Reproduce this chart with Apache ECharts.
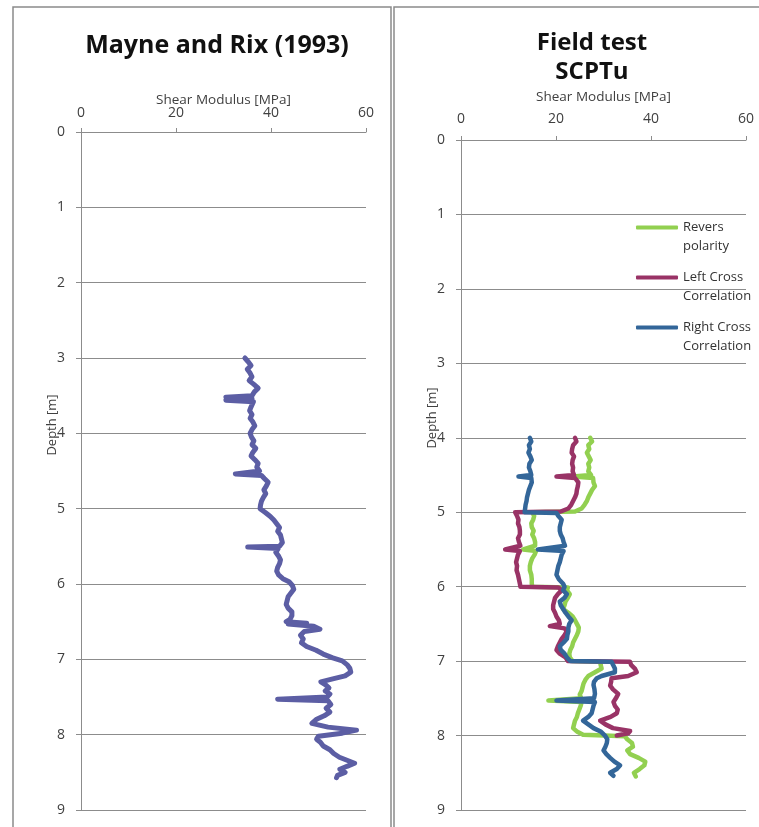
<!DOCTYPE html>
<html>
<head>
<meta charset="utf-8">
<script src="https://cdn.jsdelivr.net/npm/echarts@6/dist/echarts.min.js"></script>
<style>html,body{margin:0;padding:0;background:#fff}#c{width:759px;height:827px}</style>
</head>
<body>
<div id="c"></div>
<script>
// ---- data ----
var xTicks = [0, 20, 40, 60];
var depthTicks = [0, 1, 2, 3, 4, 5, 6, 7, 8, 9];
var titleLeft = 'Mayne and Rix (1993)';
var titleRight = 'Field test\nSCPTu';
var xAxisName = 'Shear Modulus [MPa]';
var yAxisName = 'Depth [m]';
var seriesNames = ['Revers polarity', 'Left Cross Correlation', 'Right Cross Correlation'];
var legendLabels = ['Revers\npolarity', 'Left Cross\nCorrelation', 'Right Cross\nCorrelation'];

// Mayne and Rix (1993)
var mrDepth = [3.00,3.05,3.10,3.15,3.20,3.25,3.30,3.35,3.40,3.45,3.50,3.52,3.54,3.56,3.58,3.65,3.70,3.75,3.80,3.85,3.90,3.95,4.00,4.05,4.10,4.15,4.20,4.25,4.30,4.35,4.40,4.45,4.50,4.54,4.56,4.60,4.65,4.70,4.75,4.80,4.85,4.90,4.95,5.00,5.05,5.10,5.15,5.20,5.25,5.30,5.35,5.40,5.45,5.50,5.51,5.53,5.58,5.63,5.68,5.73,5.78,5.83,5.88,5.93,5.97,6.02,6.07,6.12,6.17,6.22,6.27,6.32,6.37,6.42,6.47,6.50,6.52,6.53,6.56,6.60,6.63,6.68,6.73,6.78,6.83,6.88,6.93,6.98,7.02,7.07,7.12,7.17,7.22,7.26,7.30,7.34,7.38,7.42,7.46,7.50,7.53,7.55,7.60,7.65,7.70,7.75,7.80,7.85,7.90,7.94,7.98,8.02,8.06,8.10,8.15,8.20,8.25,8.30,8.35,8.38,8.42,8.46,8.50,8.54,8.57];
var mrG = [34.5,35.2,35.8,35.0,35.6,36.0,35.4,36.4,37.3,36.5,36.0,30.5,36.0,30.5,36.3,35.8,35.5,36.0,35.6,36.2,36.6,36.0,35.6,35.9,36.4,36.0,36.8,36.2,35.8,36.6,37.3,37.0,37.6,32.5,38.0,38.6,39.4,39.0,38.5,38.9,38.4,38.0,37.8,37.7,38.8,39.8,40.6,41.2,41.8,41.4,42.0,42.2,42.4,41.8,35.1,41.5,41.0,41.6,42.0,41.8,41.4,41.2,41.6,42.5,43.8,44.5,44.8,44.2,43.6,43.4,43.2,43.6,44.4,44.4,44.0,43.2,47.5,43.6,49.0,50.3,47.0,46.2,46.8,46.4,47.5,49.5,51.0,53.0,55.0,56.0,56.6,56.8,55.6,53.0,50.5,51.5,52.2,51.4,52.4,51.8,41.4,52.0,52.6,51.6,52.4,51.2,49.5,48.6,52.0,58.0,55.0,50.0,49.6,50.4,51.0,52.4,53.2,54.4,56.4,57.6,56.0,54.5,55.6,54.0,53.8];

// Field test SCPTu - Revers polarity
var rpDepth = [4.00,4.05,4.10,4.15,4.20,4.25,4.30,4.35,4.40,4.45,4.50,4.52,4.54,4.60,4.65,4.70,4.75,4.80,4.85,4.90,4.95,4.99,5.00,5.05,5.10,5.15,5.20,5.25,5.30,5.35,5.40,5.45,5.50,5.52,5.57,5.62,5.67,5.72,5.78,5.84,5.90,5.96,6.00,6.01,6.05,6.10,6.15,6.20,6.25,6.30,6.35,6.40,6.45,6.50,6.55,6.60,6.65,6.70,6.75,6.80,6.85,6.90,6.95,7.00,7.01,7.05,7.10,7.15,7.20,7.25,7.30,7.35,7.40,7.45,7.50,7.53,7.55,7.60,7.65,7.70,7.75,7.80,7.85,7.90,7.95,7.99,8.01,8.05,8.10,8.15,8.20,8.25,8.30,8.35,8.40,8.45,8.50,8.55];
var rpG = [27.2,27.6,26.8,27.0,26.5,26.9,27.3,26.8,27.0,26.8,27.4,23.6,27.8,27.9,28.2,27.6,27.2,26.8,26.5,26.0,25.4,24.0,15.0,15.4,15.2,14.8,14.9,15.3,15.0,15.4,15.6,15.6,13.1,15.8,15.5,15.0,14.7,14.5,14.5,14.8,14.9,14.9,15.0,22.5,22.3,22.9,22.5,22.0,21.8,21.5,22.6,23.5,24.0,24.4,24.8,24.7,24.4,24.0,23.6,23.4,23.0,22.8,22.9,23.5,29.3,29.4,29.6,28.2,26.8,26.2,25.8,25.6,25.4,25.0,25.3,18.4,25.4,25.2,24.9,24.6,24.4,24.0,23.8,23.6,24.5,25.7,34.5,35.0,36.0,36.2,35.0,35.6,37.4,38.8,38.6,37.6,36.4,36.8];

// Left Cross Correlation
var lcDepth = [4.00,4.05,4.10,4.15,4.20,4.25,4.30,4.35,4.40,4.45,4.50,4.52,4.54,4.60,4.65,4.70,4.75,4.80,4.85,4.90,4.95,4.99,5.00,5.05,5.10,5.15,5.20,5.25,5.30,5.35,5.40,5.45,5.50,5.52,5.57,5.62,5.67,5.72,5.78,5.84,5.90,5.96,6.00,6.01,6.05,6.10,6.15,6.20,6.25,6.30,6.35,6.40,6.45,6.50,6.53,6.56,6.60,6.65,6.70,6.75,6.80,6.85,6.90,6.95,7.00,7.01,7.05,7.10,7.15,7.20,7.23,7.28,7.33,7.38,7.44,7.50,7.55,7.60,7.65,7.70,7.75,7.80,7.85,7.90,7.94,7.97,8.00];
var lcG = [24.0,24.3,23.6,23.4,23.3,23.8,23.5,23.4,23.6,23.5,23.8,20.1,24.0,24.7,24.6,24.4,24.3,24.0,23.6,23.2,22.6,21.0,11.4,11.8,12.1,12.0,12.3,12.4,12.4,12.0,12.2,12.5,9.3,12.4,12.0,11.8,11.6,11.8,11.7,12.0,12.2,12.4,12.5,20.5,21.2,20.4,19.8,19.6,19.4,19.4,19.8,20.1,20.6,20.8,18.7,21.8,22.3,21.8,21.2,20.8,20.4,20.1,20.8,22.0,22.5,35.6,35.8,36.6,37.0,35.2,31.7,31.6,31.4,32.0,33.1,32.6,32.1,32.4,33.0,32.8,31.5,29.3,30.4,32.0,35.6,35.2,32.8];

// Right Cross Correlation
var rcDepth = [4.00,4.05,4.10,4.15,4.20,4.25,4.30,4.35,4.40,4.45,4.50,4.52,4.54,4.60,4.65,4.70,4.75,4.80,4.85,4.90,4.95,5.00,5.01,5.05,5.10,5.15,5.20,5.25,5.30,5.35,5.40,5.45,5.50,5.52,5.57,5.62,5.67,5.72,5.78,5.84,5.90,5.96,6.00,6.05,6.10,6.15,6.20,6.25,6.30,6.35,6.40,6.45,6.50,6.55,6.60,6.65,6.70,6.75,6.80,6.85,6.90,6.95,7.00,7.01,7.05,7.10,7.15,7.20,7.23,7.28,7.32,7.38,7.44,7.50,7.53,7.55,7.60,7.65,7.70,7.75,7.80,7.85,7.90,7.95,8.00,8.05,8.10,8.15,8.20,8.25,8.30,8.35,8.40,8.45,8.50,8.54];
var rcG = [14.5,14.8,14.3,14.5,14.2,14.6,14.9,14.4,14.3,14.6,14.8,12.1,14.8,14.9,14.6,14.3,14.1,13.9,13.8,13.6,13.5,13.4,20.1,20.5,21.2,21.0,20.8,20.8,21.0,21.4,21.6,21.9,16.2,21.6,21.2,21.0,20.8,20.5,20.3,20.1,20.6,21.5,21.8,21.5,22.3,21.8,20.8,21.0,21.5,22.0,22.6,23.3,22.8,22.6,22.6,22.4,22.3,21.6,20.8,21.0,21.8,22.3,23.0,31.7,32.0,32.4,32.4,29.6,28.6,28.0,27.9,28.1,28.2,28.0,20.1,28.2,27.9,27.7,27.5,26.8,25.7,26.8,27.9,29.5,30.3,30.8,30.7,30.4,30.0,30.6,31.4,32.3,33.5,32.8,31.4,32.1];

function pairs(g, d) { return g.map(function (v, i) { return [v, d[i]]; }); }

var FONT = 'Open Sans';
var GRAY = '#8c8c8c';
var TXT = '#404040';

function xAx(idx, nameGap, margin) {
  return {
    type: 'value', gridIndex: idx, position: 'top',
    min: xTicks[0], max: xTicks[xTicks.length - 1], interval: xTicks[1] - xTicks[0],
    name: xAxisName, nameLocation: 'middle', nameGap: nameGap, nameMoveOverlap: false,
    nameTextStyle: { fontFamily: FONT, fontSize: 13.5, color: TXT },
    axisLine: { show: true, lineStyle: { color: GRAY, width: 1 } },
    axisTick: { show: true, length: 4, lineStyle: { color: GRAY } },
    axisLabel: { fontFamily: FONT, fontSize: 14, color: TXT, margin: margin },
    splitLine: { show: false }
  };
}
function yAx(idx, nameGap, shift) {
  return {
    type: 'value', gridIndex: idx, inverse: true,
    min: depthTicks[0], max: depthTicks[depthTicks.length - 1], interval: 1,
    name: yAxisName, nameLocation: 'middle', nameGap: nameGap, nameMoveOverlap: false,
    nameTextStyle: { fontFamily: FONT, fontSize: 13, color: TXT, padding: [0, 0, 0, shift] },
    axisLine: { show: true, lineStyle: { color: GRAY, width: 1 } },
    axisTick: { show: true, length: 5, lineStyle: { color: GRAY } },
    axisLabel: { fontFamily: FONT, fontSize: 14, color: TXT, margin: 16 },
    splitLine: { show: true, lineStyle: { color: GRAY, width: 1 } }
  };
}

var chart = echarts.init(document.getElementById('c'), null, { renderer: 'canvas' });
chart.setOption({
  animation: false,
  backgroundColor: '#ffffff',
  title: [
    { text: titleLeft, left: 212, top: 28, textAlign: 'center',
      textStyle: { fontFamily: FONT, fontSize: 25, fontWeight: 'bold', color: '#111' } },
    { text: titleRight, left: 587, top: 24, textAlign: 'center',
      textStyle: { fontFamily: FONT, fontSize: 24, fontWeight: 'bold', color: '#111', lineHeight: 29 } }
  ],
  grid: [
    { left: 81, right: 759 - 366, top: 132, bottom: 827 - 810 },
    { left: 461, right: 759 - 746, top: 140, bottom: 827 - 810 }
  ],
  xAxis: [xAx(0, 25, 12), xAx(1, 36, 14)],
  yAxis: [yAx(0, 22, 92), yAx(1, 22, 114)],
  legend: {
    data: seriesNames, orient: 'vertical', left: 636, top: 199, padding: 0,
    itemGap: -7, itemWidth: 42, itemHeight: 4, icon: 'roundRect',
    formatter: function (n) { return '\u00a0\n' + legendLabels[seriesNames.indexOf(n)]; },
    textStyle: { fontFamily: FONT, fontSize: 13, color: '#333', lineHeight: 19 }
  },
  graphic: [
    { type: 'rect', shape: { x: 13, y: 7, width: 378, height: 840 }, style: { fill: 'none', stroke: '#8a8a8a', lineWidth: 1.5 }, silent: true },
    { type: 'rect', shape: { x: 394, y: 7, width: 400, height: 840 }, style: { fill: 'none', stroke: '#8a8a8a', lineWidth: 1.5 }, silent: true }
  ],
  series: [
    { type: 'line', name: 'Mayne and Rix', xAxisIndex: 0, yAxisIndex: 0, data: pairs(mrG, mrDepth),
      showSymbol: false, symbol: 'none', lineStyle: { color: '#5c5ea4', width: 5, join: 'round', cap: 'round' }, itemStyle: { color: '#5c5ea4' } },
    { type: 'line', name: seriesNames[0], xAxisIndex: 1, yAxisIndex: 1, data: pairs(rpG, rpDepth),
      showSymbol: false, symbol: 'none', lineStyle: { color: '#92d050', width: 4.5, join: 'round', cap: 'round' }, itemStyle: { color: '#92d050' } },
    { type: 'line', name: seriesNames[1], xAxisIndex: 1, yAxisIndex: 1, data: pairs(lcG, lcDepth),
      showSymbol: false, symbol: 'none', lineStyle: { color: '#993366', width: 4.5, join: 'round', cap: 'round' }, itemStyle: { color: '#993366' } },
    { type: 'line', name: seriesNames[2], xAxisIndex: 1, yAxisIndex: 1, data: pairs(rcG, rcDepth),
      showSymbol: false, symbol: 'none', lineStyle: { color: '#336699', width: 4.5, join: 'round', cap: 'round' }, itemStyle: { color: '#336699' } }
  ]
});
</script>
</body>
</html>
